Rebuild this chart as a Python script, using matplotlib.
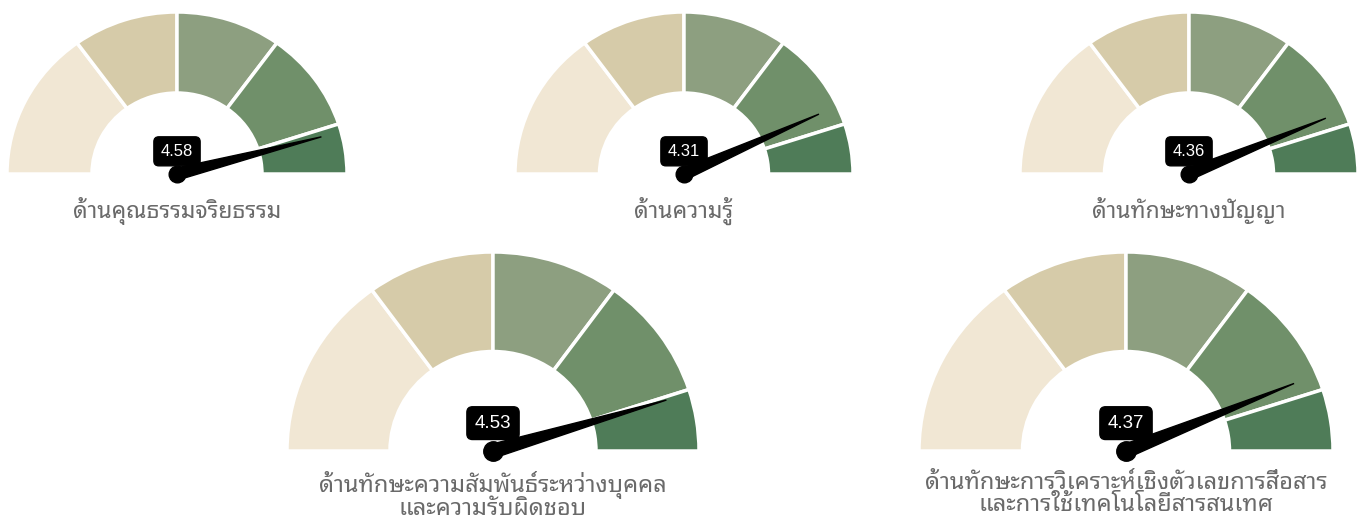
import numpy as np
import matplotlib
matplotlib.use("Agg")
import matplotlib.pyplot as plt
from matplotlib.patches import Wedge, Polygon

# ข้อมูล
titles = ["ด้านคุณธรรมจริยธรรม", "ด้านความรู้", "ด้านทักษะทางปัญญา",
          "ด้านทักษะความสัมพันธ์ระหว่างบุคคล\nและความรับผิดชอบ",
          "ด้านทักษะการวิเคราะห์เชิงตัวเลขการสื่อสาร\nและการใช้เทคโนโลยีสารสนเทศ"]
scores = [4.58, 4.31, 4.36, 4.53, 4.37]
band_edges = [0, 1.5, 2.5, 3.5, 4.5, 5]
band_colors = ["#f1e7d4", "#d6cba9", "#8d9f80", "#70906a", "#4f7c58"]
vmax = 5

W, H = 1368, 520
# ตำแหน่งเกจ (cx, cy, rx, ry) หน่วยพิกเซล
gauges = [(177, 174, 170, 162), (684, 174, 169, 162), (1189, 174, 169, 162),
          (493, 451, 206, 199), (1126, 451, 207, 199)]

fig = plt.figure(figsize=(W / 100, H / 100), dpi=100)
fig.patch.set_facecolor("white")

for i, (cx, cy, rx, ry) in enumerate(gauges):
    ax = fig.add_axes([(cx - rx) / W, (H - cy) / H, 2 * rx / W, ry / H])
    ax.set_xlim(-1, 1)
    ax.set_ylim(0, 1)
    ax.axis("off")
    big = i >= 3
    for j in range(len(band_colors)):
        t1 = 180 - band_edges[j + 1] / vmax * 180
        t2 = 180 - band_edges[j] / vmax * 180
        ax.add_patch(Wedge((0, 0), 1, t1, t2, width=0.5, facecolor=band_colors[j],
                           edgecolor="white", linewidth=2.5, clip_on=False))
    # เข็ม
    th = np.pi * (1 - scores[i] / vmax)
    L = 0.88
    tip = np.array([L * np.cos(th), L * np.sin(th)])
    d = np.array([np.cos(th) * rx, np.sin(th) * ry])
    d = d / np.hypot(*d)
    perp = np.array([-d[1], d[0]])
    hw = 7 if big else 6
    base1 = np.array([perp[0] * hw / rx, perp[1] * hw / ry])
    ax.add_patch(Polygon([base1, tip, -base1], closed=True, facecolor="black",
                         edgecolor="black", clip_on=False, zorder=5))
    ax.plot([0], [0], "o", color="black", ms=14 if big else 12, clip_on=False, zorder=5)
    ax.text(0, 0.14, f"{scores[i]:.2f}", ha="center", va="center", color="white",
            fontsize=13.5 if big else 12, family="Liberation Sans", zorder=6,
            bbox=dict(boxstyle="round,pad=0.42,rounding_size=0.3", fc="black", ec="black"))
    ax.text(0, -0.1 if big else -0.14, titles[i], ha="center", va="top", color="#6a6a6a",
            fontsize=17 if big else 16.5, fontweight="bold", linespacing=0.9,
            family=["Noto Sans Thai Looped", "DejaVu Sans"])

fig.savefig("out.png", dpi=100)
